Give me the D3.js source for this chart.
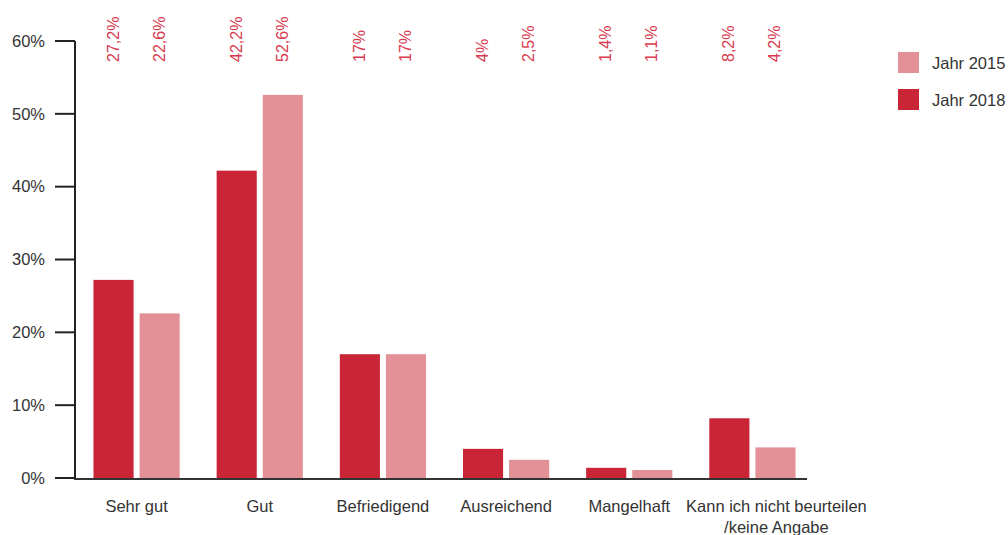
<!DOCTYPE html>
<html>
<head>
<meta charset="utf-8">
<script src="https://cdn.jsdelivr.net/npm/d3@7"></script>
<style>
  body { margin: 0; background: #fff; }
  svg { font-family: "Liberation Sans", Arial, sans-serif; }
</style>
</head>
<body>
<svg width="1008" height="535"></svg>
<script>
var categories = ["Sehr gut", "Gut", "Befriedigend", "Ausreichend", "Mangelhaft", "Kann ich nicht beurteilen\n/keine Angabe"];
var years = ["Jahr 2018", "Jahr 2015"];
var values2018 = [27.2, 42.2, 17, 4, 1.4, 8.2];
var values2015 = [22.6, 52.6, 17, 2.5, 1.1, 4.2];
var labels2018 = ["27,2%", "42,2%", "17%", "4%", "1,4%", "8,2%"];
var labels2015 = ["22,6%", "52,6%", "17%", "2,5%", "1,1%", "4,2%"];
var yTicks = [0, 10, 20, 30, 40, 50, 60];

var colors = {"Jahr 2018": "#c92536", "Jahr 2015": "#e39097"};

var svg = d3.select("svg");

var data = categories.map(function(c, i) {
  return {cat: c, vals: [
    {key: "Jahr 2018", value: values2018[i], label: labels2018[i]},
    {key: "Jahr 2015", value: values2015[i], label: labels2015[i]}
  ]};
});

var x0 = d3.scaleBand()
    .domain(categories)
    .range([75, 814])
    .paddingInner(0.3)
    .paddingOuter(0.15);

var x1 = d3.scaleBand()
    .domain(years)
    .range([0, x0.bandwidth()])
    .paddingInner(0.13);

var y = d3.scaleLinear()
    .domain([0, 60])
    .range([478, 41]);

// bars
var groups = svg.append("g")
  .selectAll("g")
  .data(data)
  .enter().append("g")
    .attr("transform", function(d) { return "translate(" + x0(d.cat) + ",0)"; });

groups.selectAll("rect")
  .data(function(d) { return d.vals; })
  .enter().append("rect")
    .attr("x", function(d) { return x1(d.key); })
    .attr("y", function(d) { return y(d.value); })
    .attr("width", x1.bandwidth())
    .attr("height", function(d) { return y(0) - y(d.value); })
    .attr("fill", function(d) { return colors[d.key]; });

// value labels on top, rotated
groups.selectAll("text.val")
  .data(function(d) { return d.vals; })
  .enter().append("text")
    .attr("class", "val")
    .attr("transform", function(d) {
      return "translate(" + (x1(d.key) + x1.bandwidth() / 2 + 5) + ",62) rotate(-90)";
    })
    .attr("fill", "#d73a4e")
    .attr("font-size", 16)
    .attr("text-anchor", "start")
    .text(function(d) { return d.label; });

// y axis
var yAxis = svg.append("g");
yAxis.append("line")
    .attr("x1", 75).attr("x2", 75)
    .attr("y1", y(60)).attr("y2", y(0) + 1)
    .attr("stroke", "#222").attr("stroke-width", 2);

var ticks = yAxis.selectAll("g.tick")
  .data(yTicks)
  .enter().append("g")
    .attr("class", "tick")
    .attr("transform", function(d) { return "translate(0," + y(d) + ")"; });

ticks.append("line")
    .attr("x1", 55).attr("x2", 75)
    .attr("stroke", "#222").attr("stroke-width", 2);

ticks.append("text")
    .attr("x", 45)
    .attr("dy", "0.35em")
    .attr("text-anchor", "end")
    .attr("font-size", 16.5)
    .attr("fill", "#333")
    .text(function(d) { return d + "%"; });

// x axis baseline
svg.append("line")
    .attr("x1", 74).attr("x2", 807)
    .attr("y1", y(0) + 1).attr("y2", y(0) + 1)
    .attr("stroke", "#333").attr("stroke-width", 2);

// category labels (the long last one sits a bit to the right)
var catLabels = svg.append("g")
  .selectAll("text")
  .data(categories)
  .enter().append("text")
    .attr("x", function(d, i) {
      var c = x0(d) + x0.bandwidth() / 2;
      return i === categories.length - 1 ? c + 24 : c;
    })
    .attr("y", 512)
    .attr("text-anchor", "middle")
    .attr("font-size", 16.5)
    .attr("fill", "#333");

catLabels.each(function(d) {
  var lines = d.split("\n");
  var t = d3.select(this);
  lines.forEach(function(l, i) {
    t.append("tspan")
      .attr("x", t.attr("x"))
      .attr("dy", i === 0 ? 0 : 21)
      .text(l);
  });
});

// legend
var legend = svg.append("g")
  .selectAll("g")
  .data(["Jahr 2015", "Jahr 2018"])
  .enter().append("g")
    .attr("transform", function(d, i) { return "translate(898," + (52 + i * 37) + ")"; });

legend.append("rect")
    .attr("width", 21)
    .attr("height", 21)
    .attr("fill", function(d) { return colors[d]; });

legend.append("text")
    .attr("x", 34)
    .attr("y", 11)
    .attr("dy", "0.35em")
    .attr("font-size", 16.5)
    .attr("fill", "#333")
    .text(function(d) { return d; });
</script>
</body>
</html>
